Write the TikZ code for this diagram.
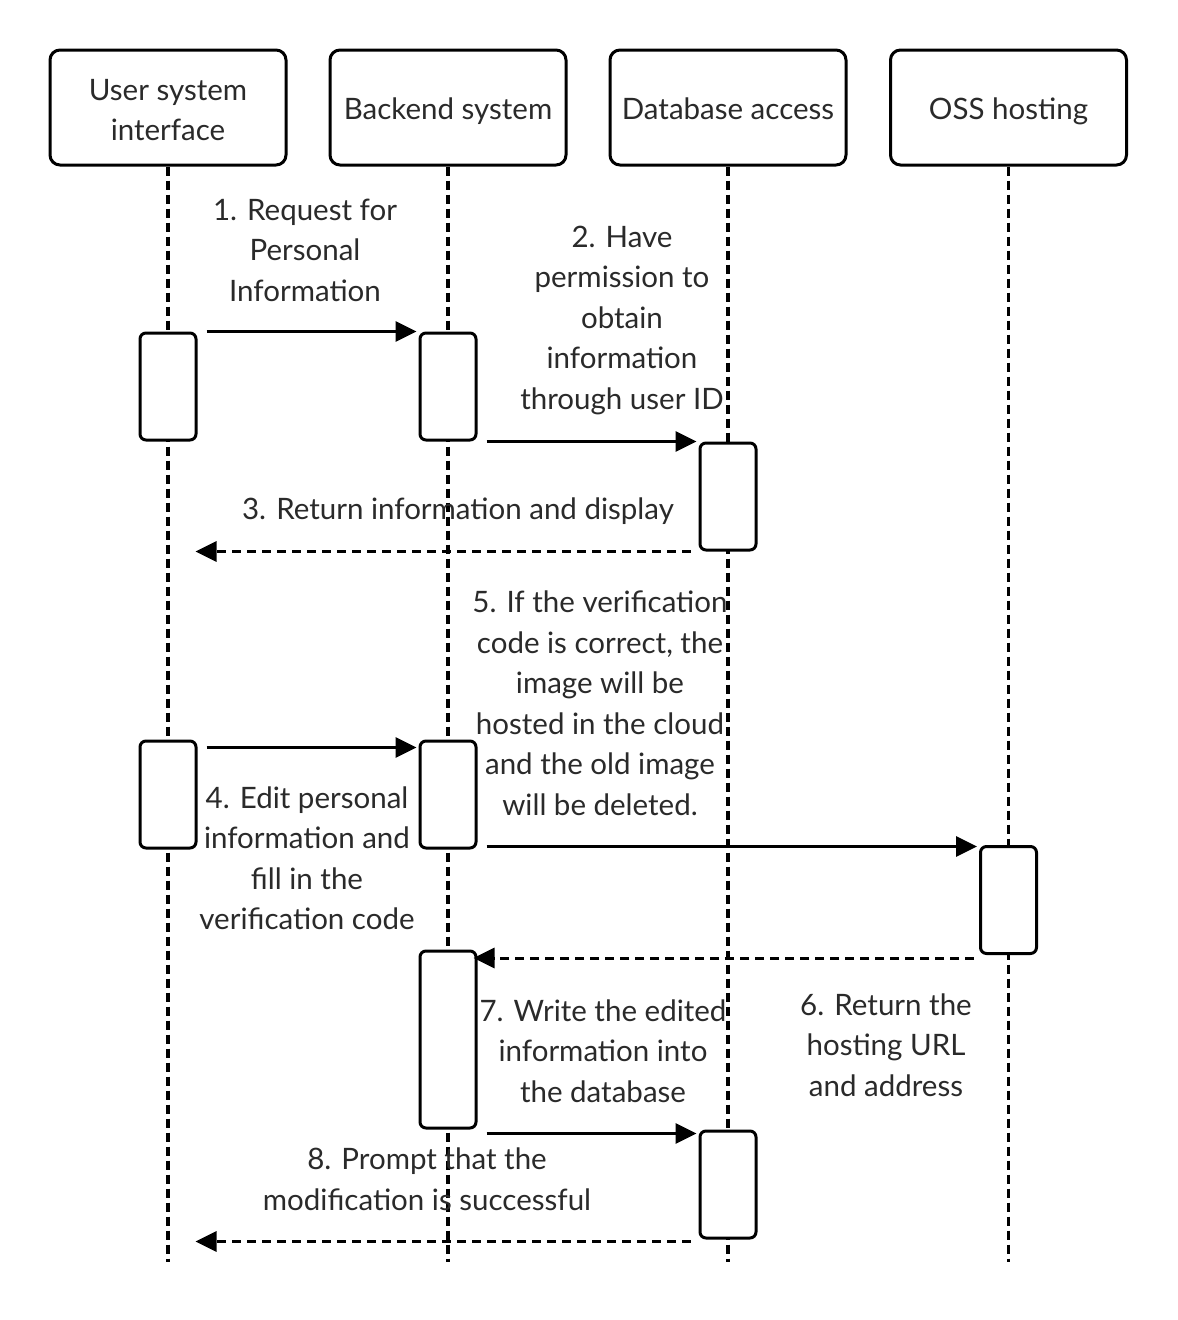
\documentclass[tikz,border=0pt]{standalone}
\usepackage{fontspec}
\setmainfont{Lato}
\usetikzlibrary{arrows.meta}
\definecolor{txt}{HTML}{2A2A2A}
\begin{document}
\begin{tikzpicture}[x=1pt,y=-1pt,
  head/.style={draw, line width=3pt, rounded corners=10pt, minimum width=236pt, minimum height=115pt, inner sep=0pt, align=center, text=txt, font=\fontsize{29.5}{40.5}\selectfont},
  act/.style={draw, line width=3pt, rounded corners=6pt, fill=white, minimum width=56pt, minimum height=107pt, inner sep=0pt},
  life/.style={line width=3.2pt, dash pattern=on 9pt off 5pt},
  msg/.style={line width=3pt, -{Triangle[length=21pt,width=20pt]}},
  ret/.style={line width=3pt, dash pattern=on 9pt off 6pt, -{Triangle[length=21pt,width=20pt]}},
  lbl/.style={align=center, text=txt, inner sep=0pt, font=\fontsize{29.5}{40.5}\selectfont}
]
\useasboundingbox (0,0) rectangle (1178,1320);
% headers
\node[head] (U) at (168,107.5) {};
\node[head] (B) at (448,107.5) {};
\node[head] (D) at (728,107.5) {};
\node[head] (O) at (1008.5,107.5) {};
\node[lbl] (Ut) at (168,110) {User system\\interface};
\node[lbl] (Bt) at (448,111) {Backend system};
\node[lbl] (Dt) at (728,109) {Database access};
\node[lbl] (Ot) at (1008.5,111) {OSS hosting};
% lifeline ends
\coordinate (Ue) at (168,1262);
\coordinate (Be) at (448,1262);
\coordinate (De) at (728,1262);
\coordinate (Oe) at (1008.5,1262);
\draw[life] (U.south) -- (Ue);
\draw[life] (B.south) -- (Be);
\draw[life] (D.south) -- (De);
\draw[life] (O.south) -- (Oe);
% activations
\node[act] (A1) at (168,386.5) {};
\node[act] (B1) at (448,386.5) {};
\node[act] (D1) at (728,496.5) {};
\node[act] (A2) at (168,794.5) {};
\node[act] (B2) at (448,794.5) {};
\node[act] (O1) at (1008.5,900) {};
\node[act, minimum height=177pt] (B3) at (448,1039.5) {};
\node[act] (D2) at (728,1184.5) {};
% messages
\draw[msg, shorten <=9pt, shorten >=2pt] (A1.north east) -- (A1.north east -| B1.west);
\draw[msg, shorten <=9pt, shorten >=2pt] (B1.south east) -- (B1.south east -| D1.west);
\draw[ret, shorten <=8pt, shorten >=-2pt] (D1.south west) -- (D1.south west -| A1.east);
\draw[msg, shorten <=9pt, shorten >=2pt] ([yshift=-8pt]A2.north east) -- ([yshift=-8pt]A2.north east -| B2.west);
\draw[msg, shorten <=9pt, shorten >=2pt] ([yshift=3pt]B2.south east) -- ([yshift=3pt]B2.south east -| O1.west);
\draw[ret, shorten <=5pt, shorten >=-4pt] ([yshift=-3pt]O1.south west) -- ([yshift=-3pt]O1.south west -| B3.east);
\draw[msg, shorten <=9pt, shorten >=2pt] ([yshift=-4pt]B3.south east) -- ([yshift=-4pt]B3.south east -| D2.west);
\draw[ret, shorten <=8pt, shorten >=-2pt] ([yshift=-2pt]D2.south west) -- ([yshift=-2pt]D2.south west -| A1.east);
% labels
\node[lbl] (L1) at (305,250) {1. Request for\\Personal\\Information};
\node[lbl] (L2) at (622,320) {2. Have\\permission to\\obtain\\information\\through user ID};
\node[lbl] (L3) at (458,511) {3. Return information and display};
\node[lbl] (L5) at (600,703) {5. If the verification\\code is correct, the\\image will be\\hosted in the cloud\\and the old image\\will be deleted.};
\node[lbl] (L4) at (307,858) {4. Edit personal\\information and\\fill in the\\verification code};
\node[lbl] (L6) at (886,1045) {6. Return the\\hosting URL\\and address};
\node[lbl] (L7) at (603,1051) {7. Write the edited\\information into\\the database};
\node[lbl] (L8) at (427,1179) {8. Prompt that the\\modification is successful};
\end{tikzpicture}
\end{document}
